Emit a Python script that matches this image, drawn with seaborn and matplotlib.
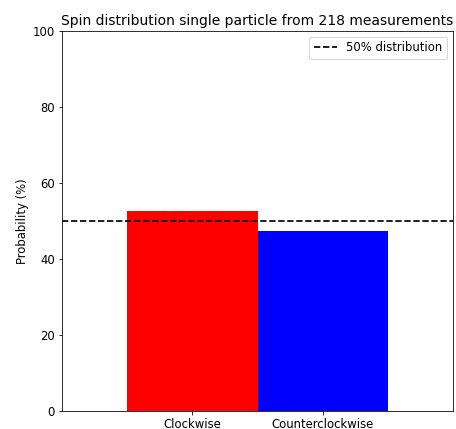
import matplotlib
matplotlib.use("Agg")
import matplotlib.pyplot as plt
import pandas as pd
import seaborn as sns

# spin counts out of 218 measurements
directions = ["Clockwise", "Counterclockwise"]
counts = [115, 103]
n_total = 218
bar_colors = ["red", "blue"]

probs = [100 * c / n_total for c in counts]
df = pd.DataFrame({"Direction": directions, "Probability": probs})

plt.rcParams["font.size"] = 11.6
plt.rcParams["lines.linewidth"] = 1.7

fig = plt.figure(figsize=(456 / 72, 429 / 72), dpi=72)
ax = fig.add_axes([62 / 456, 18 / 429, 391 / 456, 380 / 429])

sns.barplot(data=df, x="Direction", y="Probability", hue="Direction",
            palette=bar_colors, width=1.0, saturation=1, legend=False, ax=ax)
ax.axhline(50, color="black", linestyle="--", label="50% distribution")

ax.set_xlim(-1, 2)
ax.set_ylim(0, 100)
ax.set_xlabel("")
ax.set_ylabel("Probability (%)")
ax.set_title("Spin distribution single particle from 218 measurements", fontsize=13.9)
ax.legend(loc="upper right")

fig.savefig("out.png", dpi=72)
